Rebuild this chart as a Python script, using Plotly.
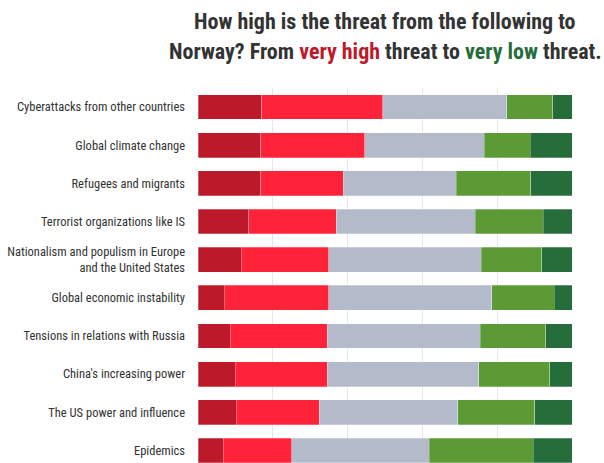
import plotly.graph_objects as go

# Survey items, listed top to bottom
categories = [
    "Cyberattacks from other countries",
    "Global climate change",
    "Refugees and migrants",
    "Terrorist organizations like IS",
    "Nationalism and populism in Europe<br>and the United States",
    "Global economic instability",
    "Tensions in relations with Russia",
    "China's increasing power",
    "The US power and influence",
    "Epidemics",
]

# Share of answers (%) per threat level
very_high = [17.0, 16.8, 16.8, 13.6, 11.5, 7.0, 8.6, 9.9, 10.2, 6.8]
high = [32.4, 27.8, 22.0, 23.3, 23.5, 28.0, 26.0, 24.7, 22.2, 18.2]
medium = [33.2, 31.9, 30.3, 37.2, 40.7, 43.6, 40.9, 40.4, 37.1, 36.8]
low = [12.3, 12.3, 19.9, 18.2, 16.2, 16.7, 17.5, 19.1, 20.5, 27.8]
very_low = [5.1, 11.2, 11.0, 7.7, 8.1, 4.7, 7.0, 5.9, 10.0, 10.4]

level_names = ["Very high", "High", "Neither", "Low", "Very low"]
level_colors = ["#BC1A2B", "#FF2339", "#B3BBCB", "#5C9A35", "#266D3C"]

FONT = "Roboto Condensed, Liberation Sans Narrow, DejaVu Sans Condensed, Roboto, sans-serif"

fig = go.Figure()
for name, vals, col in zip(level_names, [very_high, high, medium, low, very_low], level_colors):
    fig.add_trace(go.Bar(
        y=categories,
        x=vals,
        name=name,
        orientation="h",
        marker=dict(color=col, line=dict(color="rgba(255,255,255,0.45)", width=0.6)),
        hovertemplate="%{y}: %{x}%<extra>" + name + "</extra>",
    ))

fig.update_layout(
    width=604,
    height=463,
    barmode="stack",
    bargap=0.35,
    showlegend=False,
    plot_bgcolor="white",
    paper_bgcolor="white",
    margin=dict(l=198, r=32, t=88, b=0),
    font=dict(family=FONT, color="#333333"),
)

fig.update_xaxes(
    range=[0, 100],
    dtick=20,
    showgrid=True,
    gridcolor="#e6e6e6",
    gridwidth=1,
    zeroline=False,
    showticklabels=False,
    fixedrange=True,
)

fig.update_yaxes(
    type="category",
    range=[9.33, -0.5],
    showgrid=False,
    ticks="",
    ticklabelstandoff=12,
    tickfont=dict(family=FONT, size=12.5, color="#333333"),
    fixedrange=True,
)

red = "#BC1A2B"
green = "#266D3C"
fig.add_annotation(
    text="<b>How high is the threat from the following to</b>",
    xref="paper", yref="paper", x=0.5, y=1.178,
    xanchor="center", yanchor="middle", showarrow=False,
    font=dict(family=FONT, size=22, color="#333333"),
)
fig.add_annotation(
    text=("<b>Norway? From <span style='color:" + red + "'>very high</span> threat to "
          "<span style='color:" + green + "'>very low</span> threat.</b>"),
    xref="paper", yref="paper", x=0.5, y=1.097,
    xanchor="center", yanchor="middle", showarrow=False,
    font=dict(family=FONT, size=22, color="#333333"),
)

fig.write_html("out.html")
